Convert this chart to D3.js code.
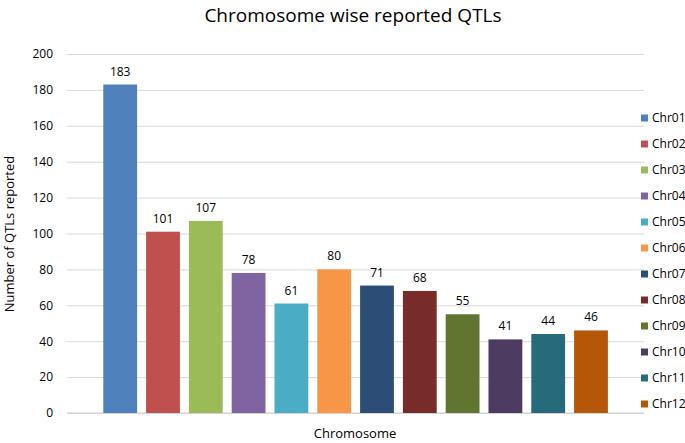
<!DOCTYPE html>
<html>
<head>
<meta charset="utf-8">
<script src="https://cdn.jsdelivr.net/npm/d3@7"></script>
<style>
  body { margin: 0; background: #fff; }
  text { font-family: "Open Sans", "Noto Sans", sans-serif; fill: #000; }
</style>
</head>
<body>
<svg id="chart" width="685" height="443"></svg>
<script>
const chromosomes = ["Chr01", "Chr02", "Chr03", "Chr04", "Chr05", "Chr06",
  "Chr07", "Chr08", "Chr09", "Chr10", "Chr11", "Chr12"];
const qtlCounts = [183, 101, 107, 78, 61, 80, 71, 68, 55, 41, 44, 46];
const yTicks = [0, 20, 40, 60, 80, 100, 120, 140, 160, 180, 200];
const colors = ["#4F81BD", "#C0504D", "#9BBB59", "#8064A2", "#4BACC6", "#F79646",
  "#2C4D75", "#772C2A", "#5F7530", "#4D3B62", "#276A7C", "#B65708"];

const data = chromosomes.map((c, i) => ({ chr: c, value: qtlCounts[i], color: colors[i] }));

const svg = d3.select("#chart");
const gridLeft = 67, gridRight = 644;
const plotTop = 54, plotBottom = 413;

const x = d3.scaleBand()
  .domain(chromosomes)
  .range([98.8, 612.4])
  .paddingInner(0.21)
  .paddingOuter(0.105);

const y = d3.scaleLinear().domain([0, 200]).range([plotBottom, plotTop]);

// gridlines + tick labels
const yAxis = d3.axisLeft(y).tickValues(yTicks).tickSize(-(gridRight - gridLeft)).tickPadding(14);
const yAxisG = svg.append("g")
  .attr("transform", `translate(${gridLeft},0)`)
  .call(yAxis);
yAxisG.select(".domain").remove();
yAxisG.selectAll(".tick line").attr("stroke", "#d9d9d9");
yAxisG.selectAll(".tick text")
  .style("font-size", "12px")
  .style("font-family", "'Open Sans', sans-serif")
  .attr("fill", "#000");

// baseline
svg.append("line")
  .attr("x1", gridLeft).attr("x2", gridRight)
  .attr("y1", y(0)).attr("y2", y(0))
  .attr("stroke", "#d0d0d0");

svg.selectAll(".bar")
  .data(data)
  .join("rect")
  .attr("class", "bar")
  .attr("x", d => x(d.chr))
  .attr("y", d => y(d.value))
  .attr("width", x.bandwidth())
  .attr("height", d => y(0) - y(d.value))
  .attr("fill", d => d.color);

svg.selectAll(".val")
  .data(data)
  .join("text")
  .attr("class", "val")
  .attr("x", d => x(d.chr) + x.bandwidth() / 2)
  .attr("y", d => y(d.value) - 9)
  .attr("text-anchor", "middle")
  .style("font-size", "12px")
  .text(d => d.value);

// title
svg.append("text")
  .attr("x", 353)
  .attr("y", 22)
  .attr("text-anchor", "middle")
  .style("font-size", "19px")
  .text("Chromosome wise reported QTLs");

// axis titles
svg.append("text")
  .attr("x", 355)
  .attr("y", 438)
  .attr("text-anchor", "middle")
  .style("font-size", "13px")
  .text("Chromosome");

svg.append("text")
  .attr("transform", "translate(14,234)rotate(-90)")
  .attr("text-anchor", "middle")
  .style("font-size", "13px")
  .text("Number of QTLs reported");

// legend
const legend = svg.append("g");
const legendRow = d3.scalePoint().domain(chromosomes).range([118, 404]);
const item = legend.selectAll("g")
  .data(data)
  .join("g")
  .attr("transform", d => `translate(641,${legendRow(d.chr)})`);
item.append("rect")
  .attr("x", 0).attr("y", -3.5)
  .attr("width", 7).attr("height", 7)
  .attr("fill", d => d.color);
item.append("text")
  .attr("x", 11)
  .attr("y", 0)
  .attr("dy", "0.35em")
  .style("font-size", "12px")
  .text(d => d.chr);
</script>
</body>
</html>
